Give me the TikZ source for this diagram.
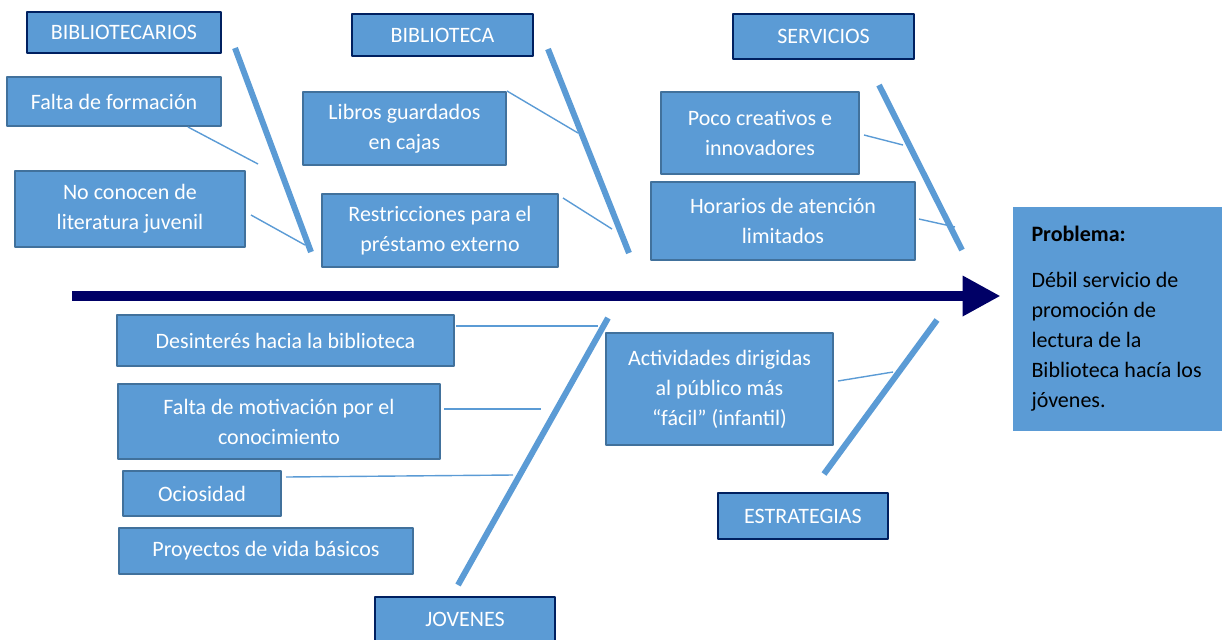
\documentclass[tikz,border=0pt]{standalone}
\usepackage{fontspec}
\setmainfont{Carlito}
\usetikzlibrary{arrows.meta,calc}
\definecolor{boxblue}{RGB}{91,155,213}
\definecolor{edgeblue}{RGB}{65,113,156}
\definecolor{navy}{RGB}{0,32,96}
\definecolor{spinecol}{RGB}{0,0,102}
\begin{document}
\begin{tikzpicture}[x=0.5pt,y=-0.5pt,line join=round,font=\fontsize{11}{15}\selectfont,
    cat/.style={draw=navy,line width=1.25pt,fill=boxblue,text=white,inner sep=0pt},
    cause/.style={draw=edgeblue,line width=1pt,fill=boxblue,text=white,align=center,inner sep=0pt},
    bone/.style={draw=boxblue,line width=3pt},
    twig/.style={draw=boxblue,line width=0.7pt},
    spine/.style={draw=spinecol,line width=5pt,-{Triangle[length=19pt,width=19pt]}}]
    \clip (0,0) rectangle (1222,639);
    % problem box and spine
    \node[fill=boxblue,minimum width=104.5pt,minimum height=112pt,text width=86pt,align=flush left,inner sep=0pt] (probl) at (1117.5,319)
        {\textbf{Problema:}\\[8pt] Débil servicio de\\ promoción de\\ lectura de la\\ Biblioteca hacía los\\ jóvenes.};
    \coordinate (tail) at (72,296);
    \draw[spine,shorten >=6pt] (tail) -- (tail -| probl.west);
    % bones
    \coordinate (bt1) at (235,48);  \coordinate (bt2) at (311,252);
    \coordinate (bb1) at (548,49);  \coordinate (bb2) at (629,253);
    \coordinate (bs1) at (879,85);  \coordinate (bs2) at (962,250);
    \coordinate (bj1) at (608,318); \coordinate (bj2) at (458,585);
    \coordinate (be1) at (937,320); \coordinate (be2) at (824,474);
    \foreach \a/\b in {bt1/bt2,bb1/bb2,bs1/bs2,bj1/bj2,be1/be2}\draw[bone] (\a)--(\b);
    % categories
    \node[cat,minimum width=97pt,minimum height=20.5pt] (bibtec) at (124,32.5) {BIBLIOTECARIOS};
    \node[cat,minimum width=90.5pt,minimum height=21pt] (biblio) at (442.5,35) {BIBLIOTECA};
    \node[cat,minimum width=90.5pt,minimum height=22.5pt] (serv) at (823.5,36.5) {SERVICIOS};
    \node[cat,minimum width=90pt,minimum height=22pt] (jov) at (465,619) {JOVENES};
    \node[cat,minimum width=85pt,minimum height=23pt] (estr) at (803,516) {ESTRATEGIAS};
    % causes
    \node[cause,minimum width=107pt,minimum height=24.5pt] (falta) at (114,101.5) {Falta de formación};
    \node[cause,minimum width=115pt,minimum height=38pt] (nocon) at (130,209) {No conocen de\\ literatura juvenil};
    \node[cause,minimum width=101.5pt,minimum height=36.5pt] (libros) at (404.5,128.5) {Libros guardados\\ en cajas};
    \node[cause,minimum width=118pt,minimum height=36.5pt] (restr) at (440,230.5) {Restricciones para el\\ préstamo externo};
    \node[cause,minimum width=99pt,minimum height=41pt] (poco) at (760,133) {Poco creativos e\\ innovadores};
    \node[cause,minimum width=132pt,minimum height=39pt] (horar) at (783,221) {Horarios de atención\\ limitados};
    \node[cause,minimum width=168.5pt,minimum height=25.5pt] (desint) at (285.5,340.5) {Desinterés hacia la biblioteca};
    \node[cause,minimum width=161pt,minimum height=37.5pt] (motiv) at (279,421.5) {Falta de motivación por el\\ conocimiento};
    \node[cause,minimum width=79pt,minimum height=22.5pt] (ocio) at (202,493.5) {Ociosidad};
    \node[cause,minimum width=147pt,minimum height=23pt] (proy) at (266,551) {Proyectos de vida básicos};
    \node[cause,minimum width=113.5pt,minimum height=56pt] (activ) at (719.5,389) {Actividades dirigidas\\ al público más\\ “fácil” (infantil)};
    % twigs
    \coordinate (f1) at (258,164); \coordinate (f2) at (305,245);
    \coordinate (l1) at (578,133); \coordinate (l2) at (612,229);
    \coordinate (s1) at (903,145); \coordinate (s2) at (955,227);
    \coordinate (j1) at (598,326); \coordinate (j2) at (541,409); \coordinate (j3) at (513,475);
    \coordinate (e1) at (893,372);
    \draw[twig] ($(falta.south east)+(-34,0)$) -- (f1);
    \draw[twig] ($(nocon.east)+(5,6)$) -- (f2);
    \draw[twig] (libros.north east) -- (l1);
    \draw[twig] ($(restr.north east)+(4,5)$) -- (l2);
    \draw[twig] ($(poco.east)+(4,2)$) -- (s1);
    \draw[twig] ($(horar.east)+(3,-2)$) -- (s2);
    \draw[twig] ($(desint.east)+(1,-14.5)$) -- (j1);
    \draw[twig] ($(motiv.east)+(3,-12.5)$) -- (j2);
    \draw[twig] ($(ocio.east)+(4,-16.5)$) -- (j3);
    \draw[twig] ($(activ.east)+(4,-8)$) -- (e1);
\end{tikzpicture}
\end{document}
